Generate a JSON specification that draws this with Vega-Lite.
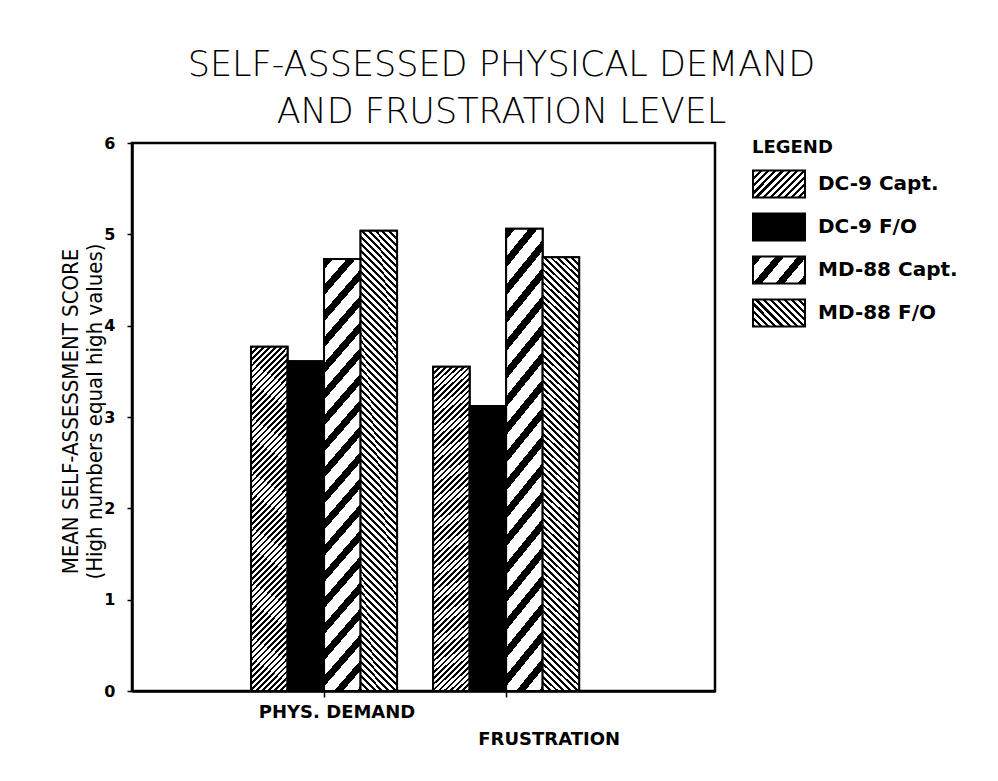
{
"$schema":"https://vega.github.io/schema/vega-lite/v6.json",
"autosize":{"type":"none"},
"padding":{"left":132,"top":143,"right":283,"bottom":90},
"width":583,"height":548,
"background":"white",
"title":{"text":["SELF-ASSESSED PHYSICAL DEMAND","AND FRUSTRATION LEVEL"],"font":"DejaVu Sans","fontSize":35,"fontWeight":200,"lineHeight":47,"anchor":"middle","frame":"group","dx":78,"dy":13,"offset":18,"color":"black"},
"data":{"values":[
{"measure":"PHYS. DEMAND","series":"DC-9 Capt.","score":3.77},
{"measure":"PHYS. DEMAND","series":"DC-9 F/O","score":3.61},
{"measure":"PHYS. DEMAND","series":"MD-88 Capt.","score":4.73},
{"measure":"PHYS. DEMAND","series":"MD-88 F/O","score":5.04},
{"measure":"FRUSTRATION","series":"DC-9 Capt.","score":3.55},
{"measure":"FRUSTRATION","series":"DC-9 F/O","score":3.12},
{"measure":"FRUSTRATION","series":"MD-88 Capt.","score":5.06},
{"measure":"FRUSTRATION","series":"MD-88 F/O","score":4.75}
]},
"encoding":{
"x":{"field":"measure","type":"nominal","scale":{"domain":["PHYS. DEMAND","FRUSTRATION"],"paddingInner":0.198,"paddingOuter":0.7,"align":0.467},
 "axis":{"title":null,"labelAngle":0,"domainColor":"black","domainWidth":2.5,"tickSize":6,"tickColor":"black","tickWidth":1.5,"labelFont":"DejaVu Sans","labelFontSize":18,"labelFontWeight":"bold","labelColor":"black","labelBaseline":"top","labelOverlap":false,"labelBound":false,"labelFlush":false,
 "labelPadding":{"condition":{"test":"datum.value === 'FRUSTRATION'","value":33},"value":6},
 "labelOffset":{"condition":{"test":"datum.value === 'FRUSTRATION'","value":43},"value":13}}},
"xOffset":{"field":"series","type":"nominal","scale":{"domain":["DC-9 Capt.","DC-9 F/O","MD-88 Capt.","MD-88 F/O"],"paddingInner":0,"paddingOuter":0}},
"y":{"field":"score","type":"quantitative","scale":{"domain":[0,6],"nice":false},
 "axis":{"values":[0,1,2,3,4,5,6],"title":["MEAN SELF-ASSESSMENT SCORE","(High numbers equal high values)"],"titleFont":"Liberation Sans Narrow, DejaVu Sans Condensed, sans-serif","titleFontSize":22,"titleFontWeight":"normal","titleColor":"black","titleX":-62,"titleY":268,"titleAngle":-90,"titleAlign":"center","titleBaseline":"middle","titleLineHeight":24,
 "labelFont":"DejaVu Sans","labelFontWeight":"bold","labelFontSize":16,"labelColor":"black","labelPadding":12,"tickSize":5,"tickColor":"black","tickWidth":1.5,"domainColor":"black","domainWidth":2.5,"grid":false}}
},
"layer":[
{"mark":{"type":"bar","strokeWidth":2},
 "encoding":{
 "fill":{"field":"series","type":"nominal",
  "scale":{"domain":["DC-9 Capt.","DC-9 F/O","MD-88 Capt.","MD-88 F/O"],"range":[
  {"expr":"{gradient:'linear',x1:0,y1:0,x2:1.197,y2:0.621,stops:[{offset:0,color:'#000'},{offset:0.04,color:'#000'},{offset:0.04,color:'#fff'},{offset:0.09,color:'#fff'},{offset:0.09,color:'#000'},{offset:0.13,color:'#000'},{offset:0.13,color:'#fff'},{offset:0.18,color:'#fff'},{offset:0.18,color:'#000'},{offset:0.22,color:'#000'},{offset:0.22,color:'#fff'},{offset:0.27,color:'#fff'},{offset:0.27,color:'#000'},{offset:0.31,color:'#000'},{offset:0.31,color:'#fff'},{offset:0.36,color:'#fff'},{offset:0.36,color:'#000'},{offset:0.4,color:'#000'},{offset:0.4,color:'#fff'},{offset:0.45,color:'#fff'},{offset:0.45,color:'#000'},{offset:0.49,color:'#000'},{offset:0.49,color:'#fff'},{offset:0.54,color:'#fff'},{offset:0.54,color:'#000'},{offset:0.58,color:'#000'},{offset:0.58,color:'#fff'},{offset:0.63,color:'#fff'},{offset:0.63,color:'#000'},{offset:0.67,color:'#000'},{offset:0.67,color:'#fff'},{offset:0.72,color:'#fff'},{offset:0.72,color:'#000'},{offset:0.76,color:'#000'},{offset:0.76,color:'#fff'},{offset:0.81,color:'#fff'},{offset:0.81,color:'#000'},{offset:0.85,color:'#000'},{offset:0.85,color:'#fff'},{offset:0.9,color:'#fff'},{offset:0.9,color:'#000'},{offset:0.94,color:'#000'},{offset:0.94,color:'#fff'},{offset:0.99,color:'#fff'},{offset:0.99,color:'#000'},{offset:1,color:'#000'}]}"},
  "#000000",
  {"expr":"{gradient:'linear',x1:0,y1:0,x2:1.2067,y2:0.5256,stops:[{offset:0,color:'#000'},{offset:0.12,color:'#000'},{offset:0.12,color:'#fff'},{offset:0.3,color:'#fff'},{offset:0.3,color:'#000'},{offset:0.42,color:'#000'},{offset:0.42,color:'#fff'},{offset:0.6,color:'#fff'},{offset:0.6,color:'#000'},{offset:0.72,color:'#000'},{offset:0.72,color:'#fff'},{offset:0.9,color:'#fff'},{offset:0.9,color:'#000'},{offset:1,color:'#000'}]}"},
  {"expr":"{gradient:'linear',x1:0,y1:1,x2:1.197,y2:0.379,stops:[{offset:0,color:'#000'},{offset:0.04,color:'#000'},{offset:0.04,color:'#fff'},{offset:0.09,color:'#fff'},{offset:0.09,color:'#000'},{offset:0.13,color:'#000'},{offset:0.13,color:'#fff'},{offset:0.18,color:'#fff'},{offset:0.18,color:'#000'},{offset:0.22,color:'#000'},{offset:0.22,color:'#fff'},{offset:0.27,color:'#fff'},{offset:0.27,color:'#000'},{offset:0.31,color:'#000'},{offset:0.31,color:'#fff'},{offset:0.36,color:'#fff'},{offset:0.36,color:'#000'},{offset:0.4,color:'#000'},{offset:0.4,color:'#fff'},{offset:0.45,color:'#fff'},{offset:0.45,color:'#000'},{offset:0.49,color:'#000'},{offset:0.49,color:'#fff'},{offset:0.54,color:'#fff'},{offset:0.54,color:'#000'},{offset:0.58,color:'#000'},{offset:0.58,color:'#fff'},{offset:0.63,color:'#fff'},{offset:0.63,color:'#000'},{offset:0.67,color:'#000'},{offset:0.67,color:'#fff'},{offset:0.72,color:'#fff'},{offset:0.72,color:'#000'},{offset:0.76,color:'#000'},{offset:0.76,color:'#fff'},{offset:0.81,color:'#fff'},{offset:0.81,color:'#000'},{offset:0.85,color:'#000'},{offset:0.85,color:'#fff'},{offset:0.9,color:'#fff'},{offset:0.9,color:'#000'},{offset:0.94,color:'#000'},{offset:0.94,color:'#fff'},{offset:0.99,color:'#fff'},{offset:0.99,color:'#000'},{offset:1,color:'#000'}]}"}
  ]},
  "legend":{"orient":"none","legendX":620,"legendY":-4,"title":"LEGEND","titleFont":"DejaVu Sans","titleFontSize":18,"titleFontWeight":"bold","titleColor":"black","titlePadding":13,
  "symbolType":"M-2,-1.04H2V1.04H-2Z","symbolSize":676,"symbolOffset":13,"symbolStrokeWidth":2,"symbolOpacity":1,
  "labelFont":"DejaVu Sans","labelFontSize":20,"labelFontWeight":"bold","labelColor":"black","labelOffset":25,"rowPadding":7}},
 "stroke":{"field":"series","type":"nominal",
  "scale":{"domain":["DC-9 Capt.","DC-9 F/O","MD-88 Capt.","MD-88 F/O"],"range":["#000000","#000000","#000000","#000000"]},
  "legend":{"orient":"none","legendX":620,"legendY":-4,"title":"LEGEND","titleFont":"DejaVu Sans","titleFontSize":18,"titleFontWeight":"bold","titleColor":"black","titlePadding":13,
  "symbolType":"M-2,-1.04H2V1.04H-2Z","symbolSize":676,"symbolOffset":13,"symbolStrokeWidth":2,"symbolOpacity":1,
  "labelFont":"DejaVu Sans","labelFontSize":20,"labelFontWeight":"bold","labelColor":"black","labelOffset":25,"rowPadding":7}}
 }},
{"mark":{"type":"bar","stroke":"black","strokeWidth":2},
 "encoding":{
 "fill":{
 "condition":[
 {"test":"datum.series === 'DC-9 Capt.'","value":{"gradient":"linear","x1":0,"y1":0,"x2":0.1198,"y2":1.0962,"stops":[
{"offset":0,"color":"#000"},{"offset":0.007,"color":"#000"},{"offset":0.007,"color":"#fff"},{"offset":0.016,"color":"#fff"},
{"offset":0.016,"color":"#000"},{"offset":0.023,"color":"#000"},{"offset":0.023,"color":"#fff"},{"offset":0.032,"color":"#fff"},
{"offset":0.032,"color":"#000"},{"offset":0.039,"color":"#000"},{"offset":0.039,"color":"#fff"},{"offset":0.048,"color":"#fff"},
{"offset":0.048,"color":"#000"},{"offset":0.055,"color":"#000"},{"offset":0.055,"color":"#fff"},{"offset":0.064,"color":"#fff"},
{"offset":0.064,"color":"#000"},{"offset":0.071,"color":"#000"},{"offset":0.071,"color":"#fff"},{"offset":0.08,"color":"#fff"},
{"offset":0.08,"color":"#000"},{"offset":0.087,"color":"#000"},{"offset":0.087,"color":"#fff"},{"offset":0.096,"color":"#fff"},
{"offset":0.096,"color":"#000"},{"offset":0.103,"color":"#000"},{"offset":0.103,"color":"#fff"},{"offset":0.112,"color":"#fff"},
{"offset":0.112,"color":"#000"},{"offset":0.119,"color":"#000"},{"offset":0.119,"color":"#fff"},{"offset":0.128,"color":"#fff"},
{"offset":0.128,"color":"#000"},{"offset":0.135,"color":"#000"},{"offset":0.135,"color":"#fff"},{"offset":0.144,"color":"#fff"},
{"offset":0.144,"color":"#000"},{"offset":0.151,"color":"#000"},{"offset":0.151,"color":"#fff"},{"offset":0.16,"color":"#fff"},
{"offset":0.16,"color":"#000"},{"offset":0.167,"color":"#000"},{"offset":0.167,"color":"#fff"},{"offset":0.176,"color":"#fff"},
{"offset":0.176,"color":"#000"},{"offset":0.183,"color":"#000"},{"offset":0.183,"color":"#fff"},{"offset":0.192,"color":"#fff"},
{"offset":0.192,"color":"#000"},{"offset":0.199,"color":"#000"},{"offset":0.199,"color":"#fff"},{"offset":0.208,"color":"#fff"},
{"offset":0.208,"color":"#000"},{"offset":0.215,"color":"#000"},{"offset":0.215,"color":"#fff"},{"offset":0.224,"color":"#fff"},
{"offset":0.224,"color":"#000"},{"offset":0.231,"color":"#000"},{"offset":0.231,"color":"#fff"},{"offset":0.24,"color":"#fff"},
{"offset":0.24,"color":"#000"},{"offset":0.247,"color":"#000"},{"offset":0.247,"color":"#fff"},{"offset":0.256,"color":"#fff"},
{"offset":0.256,"color":"#000"},{"offset":0.263,"color":"#000"},{"offset":0.263,"color":"#fff"},{"offset":0.272,"color":"#fff"},
{"offset":0.272,"color":"#000"},{"offset":0.279,"color":"#000"},{"offset":0.279,"color":"#fff"},{"offset":0.288,"color":"#fff"},
{"offset":0.288,"color":"#000"},{"offset":0.295,"color":"#000"},{"offset":0.295,"color":"#fff"},{"offset":0.304,"color":"#fff"},
{"offset":0.304,"color":"#000"},{"offset":0.311,"color":"#000"},{"offset":0.311,"color":"#fff"},{"offset":0.32,"color":"#fff"},
{"offset":0.32,"color":"#000"},{"offset":0.327,"color":"#000"},{"offset":0.327,"color":"#fff"},{"offset":0.336,"color":"#fff"},
{"offset":0.336,"color":"#000"},{"offset":0.343,"color":"#000"},{"offset":0.343,"color":"#fff"},{"offset":0.352,"color":"#fff"},
{"offset":0.352,"color":"#000"},{"offset":0.359,"color":"#000"},{"offset":0.359,"color":"#fff"},{"offset":0.368,"color":"#fff"},
{"offset":0.368,"color":"#000"},{"offset":0.375,"color":"#000"},{"offset":0.375,"color":"#fff"},{"offset":0.384,"color":"#fff"},
{"offset":0.384,"color":"#000"},{"offset":0.391,"color":"#000"},{"offset":0.391,"color":"#fff"},{"offset":0.4,"color":"#fff"},
{"offset":0.4,"color":"#000"},{"offset":0.407,"color":"#000"},{"offset":0.407,"color":"#fff"},{"offset":0.416,"color":"#fff"},
{"offset":0.416,"color":"#000"},{"offset":0.423,"color":"#000"},{"offset":0.423,"color":"#fff"},{"offset":0.432,"color":"#fff"},
{"offset":0.432,"color":"#000"},{"offset":0.439,"color":"#000"},{"offset":0.439,"color":"#fff"},{"offset":0.448,"color":"#fff"},
{"offset":0.448,"color":"#000"},{"offset":0.455,"color":"#000"},{"offset":0.455,"color":"#fff"},{"offset":0.464,"color":"#fff"},
{"offset":0.464,"color":"#000"},{"offset":0.471,"color":"#000"},{"offset":0.471,"color":"#fff"},{"offset":0.48,"color":"#fff"},
{"offset":0.48,"color":"#000"},{"offset":0.487,"color":"#000"},{"offset":0.487,"color":"#fff"},{"offset":0.496,"color":"#fff"},
{"offset":0.496,"color":"#000"},{"offset":0.503,"color":"#000"},{"offset":0.503,"color":"#fff"},{"offset":0.512,"color":"#fff"},
{"offset":0.512,"color":"#000"},{"offset":0.519,"color":"#000"},{"offset":0.519,"color":"#fff"},{"offset":0.528,"color":"#fff"},
{"offset":0.528,"color":"#000"},{"offset":0.535,"color":"#000"},{"offset":0.535,"color":"#fff"},{"offset":0.544,"color":"#fff"},
{"offset":0.544,"color":"#000"},{"offset":0.551,"color":"#000"},{"offset":0.551,"color":"#fff"},{"offset":0.56,"color":"#fff"},
{"offset":0.56,"color":"#000"},{"offset":0.567,"color":"#000"},{"offset":0.567,"color":"#fff"},{"offset":0.576,"color":"#fff"},
{"offset":0.576,"color":"#000"},{"offset":0.583,"color":"#000"},{"offset":0.583,"color":"#fff"},{"offset":0.592,"color":"#fff"},
{"offset":0.592,"color":"#000"},{"offset":0.599,"color":"#000"},{"offset":0.599,"color":"#fff"},{"offset":0.608,"color":"#fff"},
{"offset":0.608,"color":"#000"},{"offset":0.615,"color":"#000"},{"offset":0.615,"color":"#fff"},{"offset":0.624,"color":"#fff"},
{"offset":0.624,"color":"#000"},{"offset":0.631,"color":"#000"},{"offset":0.631,"color":"#fff"},{"offset":0.64,"color":"#fff"},
{"offset":0.64,"color":"#000"},{"offset":0.647,"color":"#000"},{"offset":0.647,"color":"#fff"},{"offset":0.656,"color":"#fff"},
{"offset":0.656,"color":"#000"},{"offset":0.663,"color":"#000"},{"offset":0.663,"color":"#fff"},{"offset":0.672,"color":"#fff"},
{"offset":0.672,"color":"#000"},{"offset":0.679,"color":"#000"},{"offset":0.679,"color":"#fff"},{"offset":0.688,"color":"#fff"},
{"offset":0.688,"color":"#000"},{"offset":0.695,"color":"#000"},{"offset":0.695,"color":"#fff"},{"offset":0.704,"color":"#fff"},
{"offset":0.704,"color":"#000"},{"offset":0.711,"color":"#000"},{"offset":0.711,"color":"#fff"},{"offset":0.72,"color":"#fff"},
{"offset":0.72,"color":"#000"},{"offset":0.727,"color":"#000"},{"offset":0.727,"color":"#fff"},{"offset":0.736,"color":"#fff"},
{"offset":0.736,"color":"#000"},{"offset":0.743,"color":"#000"},{"offset":0.743,"color":"#fff"},{"offset":0.752,"color":"#fff"},
{"offset":0.752,"color":"#000"},{"offset":0.759,"color":"#000"},{"offset":0.759,"color":"#fff"},{"offset":0.768,"color":"#fff"},
{"offset":0.768,"color":"#000"},{"offset":0.775,"color":"#000"},{"offset":0.775,"color":"#fff"},{"offset":0.784,"color":"#fff"},
{"offset":0.784,"color":"#000"},{"offset":0.791,"color":"#000"},{"offset":0.791,"color":"#fff"},{"offset":0.8,"color":"#fff"},
{"offset":0.8,"color":"#000"},{"offset":0.807,"color":"#000"},{"offset":0.807,"color":"#fff"},{"offset":0.816,"color":"#fff"},
{"offset":0.816,"color":"#000"},{"offset":0.823,"color":"#000"},{"offset":0.823,"color":"#fff"},{"offset":0.832,"color":"#fff"},
{"offset":0.832,"color":"#000"},{"offset":0.839,"color":"#000"},{"offset":0.839,"color":"#fff"},{"offset":0.848,"color":"#fff"},
{"offset":0.848,"color":"#000"},{"offset":0.855,"color":"#000"},{"offset":0.855,"color":"#fff"},{"offset":0.864,"color":"#fff"},
{"offset":0.864,"color":"#000"},{"offset":0.871,"color":"#000"},{"offset":0.871,"color":"#fff"},{"offset":0.88,"color":"#fff"},
{"offset":0.88,"color":"#000"},{"offset":0.887,"color":"#000"},{"offset":0.887,"color":"#fff"},{"offset":0.896,"color":"#fff"},
{"offset":0.896,"color":"#000"},{"offset":0.903,"color":"#000"},{"offset":0.903,"color":"#fff"},{"offset":0.912,"color":"#fff"},
{"offset":0.912,"color":"#000"},{"offset":0.919,"color":"#000"},{"offset":0.919,"color":"#fff"},{"offset":0.928,"color":"#fff"},
{"offset":0.928,"color":"#000"},{"offset":0.935,"color":"#000"},{"offset":0.935,"color":"#fff"},{"offset":0.944,"color":"#fff"},
{"offset":0.944,"color":"#000"},{"offset":0.951,"color":"#000"},{"offset":0.951,"color":"#fff"},{"offset":0.96,"color":"#fff"},
{"offset":0.96,"color":"#000"},{"offset":0.967,"color":"#000"},{"offset":0.967,"color":"#fff"},{"offset":0.976,"color":"#fff"},
{"offset":0.976,"color":"#000"},{"offset":0.983,"color":"#000"},{"offset":0.983,"color":"#fff"},{"offset":0.992,"color":"#fff"},
{"offset":0.992,"color":"#000"},{"offset":0.999,"color":"#000"},{"offset":0.999,"color":"#fff"}
 ]}},
 {"test":"datum.series === 'MD-88 Capt.'","value":{"gradient":"linear","x1":0,"y1":0,"x2":0.1058,"y2":1.087,"stops":[
{"offset":0,"color":"#000"},{"offset":0.022,"color":"#000"},{"offset":0.022,"color":"#fff"},{"offset":0.055,"color":"#fff"},
{"offset":0.055,"color":"#000"},{"offset":0.077,"color":"#000"},{"offset":0.077,"color":"#fff"},{"offset":0.11,"color":"#fff"},
{"offset":0.11,"color":"#000"},{"offset":0.132,"color":"#000"},{"offset":0.132,"color":"#fff"},{"offset":0.165,"color":"#fff"},
{"offset":0.165,"color":"#000"},{"offset":0.187,"color":"#000"},{"offset":0.187,"color":"#fff"},{"offset":0.22,"color":"#fff"},
{"offset":0.22,"color":"#000"},{"offset":0.242,"color":"#000"},{"offset":0.242,"color":"#fff"},{"offset":0.275,"color":"#fff"},
{"offset":0.275,"color":"#000"},{"offset":0.297,"color":"#000"},{"offset":0.297,"color":"#fff"},{"offset":0.33,"color":"#fff"},
{"offset":0.33,"color":"#000"},{"offset":0.352,"color":"#000"},{"offset":0.352,"color":"#fff"},{"offset":0.385,"color":"#fff"},
{"offset":0.385,"color":"#000"},{"offset":0.407,"color":"#000"},{"offset":0.407,"color":"#fff"},{"offset":0.44,"color":"#fff"},
{"offset":0.44,"color":"#000"},{"offset":0.462,"color":"#000"},{"offset":0.462,"color":"#fff"},{"offset":0.495,"color":"#fff"},
{"offset":0.495,"color":"#000"},{"offset":0.517,"color":"#000"},{"offset":0.517,"color":"#fff"},{"offset":0.55,"color":"#fff"},
{"offset":0.55,"color":"#000"},{"offset":0.572,"color":"#000"},{"offset":0.572,"color":"#fff"},{"offset":0.605,"color":"#fff"},
{"offset":0.605,"color":"#000"},{"offset":0.627,"color":"#000"},{"offset":0.627,"color":"#fff"},{"offset":0.66,"color":"#fff"},
{"offset":0.66,"color":"#000"},{"offset":0.682,"color":"#000"},{"offset":0.682,"color":"#fff"},{"offset":0.715,"color":"#fff"},
{"offset":0.715,"color":"#000"},{"offset":0.737,"color":"#000"},{"offset":0.737,"color":"#fff"},{"offset":0.77,"color":"#fff"},
{"offset":0.77,"color":"#000"},{"offset":0.792,"color":"#000"},{"offset":0.792,"color":"#fff"},{"offset":0.825,"color":"#fff"},
{"offset":0.825,"color":"#000"},{"offset":0.847,"color":"#000"},{"offset":0.847,"color":"#fff"},{"offset":0.88,"color":"#fff"},
{"offset":0.88,"color":"#000"},{"offset":0.902,"color":"#000"},{"offset":0.902,"color":"#fff"},{"offset":0.935,"color":"#fff"},
{"offset":0.935,"color":"#000"},{"offset":0.957,"color":"#000"},{"offset":0.957,"color":"#fff"},{"offset":0.99,"color":"#fff"},
{"offset":0.99,"color":"#000"},{"offset":1,"color":"#000"}
 ]}},
 {"test":"datum.series === 'MD-88 F/O'","value":{"gradient":"linear","x1":0,"y1":1,"x2":0.0878,"y2":-0.0745,"stops":[
{"offset":0,"color":"#000"},{"offset":0.006,"color":"#000"},{"offset":0.006,"color":"#fff"},{"offset":0.014,"color":"#fff"},
{"offset":0.014,"color":"#000"},{"offset":0.02,"color":"#000"},{"offset":0.02,"color":"#fff"},{"offset":0.028,"color":"#fff"},
{"offset":0.028,"color":"#000"},{"offset":0.034,"color":"#000"},{"offset":0.034,"color":"#fff"},{"offset":0.042,"color":"#fff"},
{"offset":0.042,"color":"#000"},{"offset":0.048,"color":"#000"},{"offset":0.048,"color":"#fff"},{"offset":0.056,"color":"#fff"},
{"offset":0.056,"color":"#000"},{"offset":0.062,"color":"#000"},{"offset":0.062,"color":"#fff"},{"offset":0.07,"color":"#fff"},
{"offset":0.07,"color":"#000"},{"offset":0.076,"color":"#000"},{"offset":0.076,"color":"#fff"},{"offset":0.084,"color":"#fff"},
{"offset":0.084,"color":"#000"},{"offset":0.09,"color":"#000"},{"offset":0.09,"color":"#fff"},{"offset":0.098,"color":"#fff"},
{"offset":0.098,"color":"#000"},{"offset":0.104,"color":"#000"},{"offset":0.104,"color":"#fff"},{"offset":0.112,"color":"#fff"},
{"offset":0.112,"color":"#000"},{"offset":0.118,"color":"#000"},{"offset":0.118,"color":"#fff"},{"offset":0.126,"color":"#fff"},
{"offset":0.126,"color":"#000"},{"offset":0.132,"color":"#000"},{"offset":0.132,"color":"#fff"},{"offset":0.14,"color":"#fff"},
{"offset":0.14,"color":"#000"},{"offset":0.146,"color":"#000"},{"offset":0.146,"color":"#fff"},{"offset":0.154,"color":"#fff"},
{"offset":0.154,"color":"#000"},{"offset":0.16,"color":"#000"},{"offset":0.16,"color":"#fff"},{"offset":0.168,"color":"#fff"},
{"offset":0.168,"color":"#000"},{"offset":0.174,"color":"#000"},{"offset":0.174,"color":"#fff"},{"offset":0.182,"color":"#fff"},
{"offset":0.182,"color":"#000"},{"offset":0.188,"color":"#000"},{"offset":0.188,"color":"#fff"},{"offset":0.196,"color":"#fff"},
{"offset":0.196,"color":"#000"},{"offset":0.202,"color":"#000"},{"offset":0.202,"color":"#fff"},{"offset":0.21,"color":"#fff"},
{"offset":0.21,"color":"#000"},{"offset":0.216,"color":"#000"},{"offset":0.216,"color":"#fff"},{"offset":0.224,"color":"#fff"},
{"offset":0.224,"color":"#000"},{"offset":0.23,"color":"#000"},{"offset":0.23,"color":"#fff"},{"offset":0.238,"color":"#fff"},
{"offset":0.238,"color":"#000"},{"offset":0.244,"color":"#000"},{"offset":0.244,"color":"#fff"},{"offset":0.252,"color":"#fff"},
{"offset":0.252,"color":"#000"},{"offset":0.258,"color":"#000"},{"offset":0.258,"color":"#fff"},{"offset":0.266,"color":"#fff"},
{"offset":0.266,"color":"#000"},{"offset":0.272,"color":"#000"},{"offset":0.272,"color":"#fff"},{"offset":0.28,"color":"#fff"},
{"offset":0.28,"color":"#000"},{"offset":0.286,"color":"#000"},{"offset":0.286,"color":"#fff"},{"offset":0.294,"color":"#fff"},
{"offset":0.294,"color":"#000"},{"offset":0.3,"color":"#000"},{"offset":0.3,"color":"#fff"},{"offset":0.308,"color":"#fff"},
{"offset":0.308,"color":"#000"},{"offset":0.314,"color":"#000"},{"offset":0.314,"color":"#fff"},{"offset":0.322,"color":"#fff"},
{"offset":0.322,"color":"#000"},{"offset":0.328,"color":"#000"},{"offset":0.328,"color":"#fff"},{"offset":0.336,"color":"#fff"},
{"offset":0.336,"color":"#000"},{"offset":0.342,"color":"#000"},{"offset":0.342,"color":"#fff"},{"offset":0.35,"color":"#fff"},
{"offset":0.35,"color":"#000"},{"offset":0.356,"color":"#000"},{"offset":0.356,"color":"#fff"},{"offset":0.364,"color":"#fff"},
{"offset":0.364,"color":"#000"},{"offset":0.37,"color":"#000"},{"offset":0.37,"color":"#fff"},{"offset":0.378,"color":"#fff"},
{"offset":0.378,"color":"#000"},{"offset":0.384,"color":"#000"},{"offset":0.384,"color":"#fff"},{"offset":0.392,"color":"#fff"},
{"offset":0.392,"color":"#000"},{"offset":0.398,"color":"#000"},{"offset":0.398,"color":"#fff"},{"offset":0.406,"color":"#fff"},
{"offset":0.406,"color":"#000"},{"offset":0.412,"color":"#000"},{"offset":0.412,"color":"#fff"},{"offset":0.42,"color":"#fff"},
{"offset":0.42,"color":"#000"},{"offset":0.426,"color":"#000"},{"offset":0.426,"color":"#fff"},{"offset":0.434,"color":"#fff"},
{"offset":0.434,"color":"#000"},{"offset":0.44,"color":"#000"},{"offset":0.44,"color":"#fff"},{"offset":0.448,"color":"#fff"},
{"offset":0.448,"color":"#000"},{"offset":0.454,"color":"#000"},{"offset":0.454,"color":"#fff"},{"offset":0.462,"color":"#fff"},
{"offset":0.462,"color":"#000"},{"offset":0.468,"color":"#000"},{"offset":0.468,"color":"#fff"},{"offset":0.476,"color":"#fff"},
{"offset":0.476,"color":"#000"},{"offset":0.482,"color":"#000"},{"offset":0.482,"color":"#fff"},{"offset":0.49,"color":"#fff"},
{"offset":0.49,"color":"#000"},{"offset":0.496,"color":"#000"},{"offset":0.496,"color":"#fff"},{"offset":0.504,"color":"#fff"},
{"offset":0.504,"color":"#000"},{"offset":0.51,"color":"#000"},{"offset":0.51,"color":"#fff"},{"offset":0.518,"color":"#fff"},
{"offset":0.518,"color":"#000"},{"offset":0.524,"color":"#000"},{"offset":0.524,"color":"#fff"},{"offset":0.532,"color":"#fff"},
{"offset":0.532,"color":"#000"},{"offset":0.538,"color":"#000"},{"offset":0.538,"color":"#fff"},{"offset":0.546,"color":"#fff"},
{"offset":0.546,"color":"#000"},{"offset":0.552,"color":"#000"},{"offset":0.552,"color":"#fff"},{"offset":0.56,"color":"#fff"},
{"offset":0.56,"color":"#000"},{"offset":0.566,"color":"#000"},{"offset":0.566,"color":"#fff"},{"offset":0.574,"color":"#fff"},
{"offset":0.574,"color":"#000"},{"offset":0.58,"color":"#000"},{"offset":0.58,"color":"#fff"},{"offset":0.588,"color":"#fff"},
{"offset":0.588,"color":"#000"},{"offset":0.594,"color":"#000"},{"offset":0.594,"color":"#fff"},{"offset":0.602,"color":"#fff"},
{"offset":0.602,"color":"#000"},{"offset":0.608,"color":"#000"},{"offset":0.608,"color":"#fff"},{"offset":0.616,"color":"#fff"},
{"offset":0.616,"color":"#000"},{"offset":0.622,"color":"#000"},{"offset":0.622,"color":"#fff"},{"offset":0.63,"color":"#fff"},
{"offset":0.63,"color":"#000"},{"offset":0.636,"color":"#000"},{"offset":0.636,"color":"#fff"},{"offset":0.644,"color":"#fff"},
{"offset":0.644,"color":"#000"},{"offset":0.65,"color":"#000"},{"offset":0.65,"color":"#fff"},{"offset":0.658,"color":"#fff"},
{"offset":0.658,"color":"#000"},{"offset":0.664,"color":"#000"},{"offset":0.664,"color":"#fff"},{"offset":0.672,"color":"#fff"},
{"offset":0.672,"color":"#000"},{"offset":0.678,"color":"#000"},{"offset":0.678,"color":"#fff"},{"offset":0.686,"color":"#fff"},
{"offset":0.686,"color":"#000"},{"offset":0.692,"color":"#000"},{"offset":0.692,"color":"#fff"},{"offset":0.7,"color":"#fff"},
{"offset":0.7,"color":"#000"},{"offset":0.706,"color":"#000"},{"offset":0.706,"color":"#fff"},{"offset":0.714,"color":"#fff"},
{"offset":0.714,"color":"#000"},{"offset":0.72,"color":"#000"},{"offset":0.72,"color":"#fff"},{"offset":0.728,"color":"#fff"},
{"offset":0.728,"color":"#000"},{"offset":0.734,"color":"#000"},{"offset":0.734,"color":"#fff"},{"offset":0.742,"color":"#fff"},
{"offset":0.742,"color":"#000"},{"offset":0.748,"color":"#000"},{"offset":0.748,"color":"#fff"},{"offset":0.756,"color":"#fff"},
{"offset":0.756,"color":"#000"},{"offset":0.762,"color":"#000"},{"offset":0.762,"color":"#fff"},{"offset":0.77,"color":"#fff"},
{"offset":0.77,"color":"#000"},{"offset":0.776,"color":"#000"},{"offset":0.776,"color":"#fff"},{"offset":0.784,"color":"#fff"},
{"offset":0.784,"color":"#000"},{"offset":0.79,"color":"#000"},{"offset":0.79,"color":"#fff"},{"offset":0.798,"color":"#fff"},
{"offset":0.798,"color":"#000"},{"offset":0.804,"color":"#000"},{"offset":0.804,"color":"#fff"},{"offset":0.812,"color":"#fff"},
{"offset":0.812,"color":"#000"},{"offset":0.818,"color":"#000"},{"offset":0.818,"color":"#fff"},{"offset":0.826,"color":"#fff"},
{"offset":0.826,"color":"#000"},{"offset":0.832,"color":"#000"},{"offset":0.832,"color":"#fff"},{"offset":0.84,"color":"#fff"},
{"offset":0.84,"color":"#000"},{"offset":0.846,"color":"#000"},{"offset":0.846,"color":"#fff"},{"offset":0.854,"color":"#fff"},
{"offset":0.854,"color":"#000"},{"offset":0.86,"color":"#000"},{"offset":0.86,"color":"#fff"},{"offset":0.868,"color":"#fff"},
{"offset":0.868,"color":"#000"},{"offset":0.874,"color":"#000"},{"offset":0.874,"color":"#fff"},{"offset":0.882,"color":"#fff"},
{"offset":0.882,"color":"#000"},{"offset":0.888,"color":"#000"},{"offset":0.888,"color":"#fff"},{"offset":0.896,"color":"#fff"},
{"offset":0.896,"color":"#000"},{"offset":0.902,"color":"#000"},{"offset":0.902,"color":"#fff"},{"offset":0.91,"color":"#fff"},
{"offset":0.91,"color":"#000"},{"offset":0.916,"color":"#000"},{"offset":0.916,"color":"#fff"},{"offset":0.924,"color":"#fff"},
{"offset":0.924,"color":"#000"},{"offset":0.93,"color":"#000"},{"offset":0.93,"color":"#fff"},{"offset":0.938,"color":"#fff"},
{"offset":0.938,"color":"#000"},{"offset":0.944,"color":"#000"},{"offset":0.944,"color":"#fff"},{"offset":0.952,"color":"#fff"},
{"offset":0.952,"color":"#000"},{"offset":0.958,"color":"#000"},{"offset":0.958,"color":"#fff"},{"offset":0.966,"color":"#fff"},
{"offset":0.966,"color":"#000"},{"offset":0.972,"color":"#000"},{"offset":0.972,"color":"#fff"},{"offset":0.98,"color":"#fff"},
{"offset":0.98,"color":"#000"},{"offset":0.986,"color":"#000"},{"offset":0.986,"color":"#fff"},{"offset":0.994,"color":"#fff"},
{"offset":0.994,"color":"#000"},{"offset":1,"color":"#000"}
 ]}}
 ],
 "value":"#000000"}
 }}
],
"config":{"view":{"stroke":"black","strokeWidth":2.5},"axis":{"grid":false}}
}
